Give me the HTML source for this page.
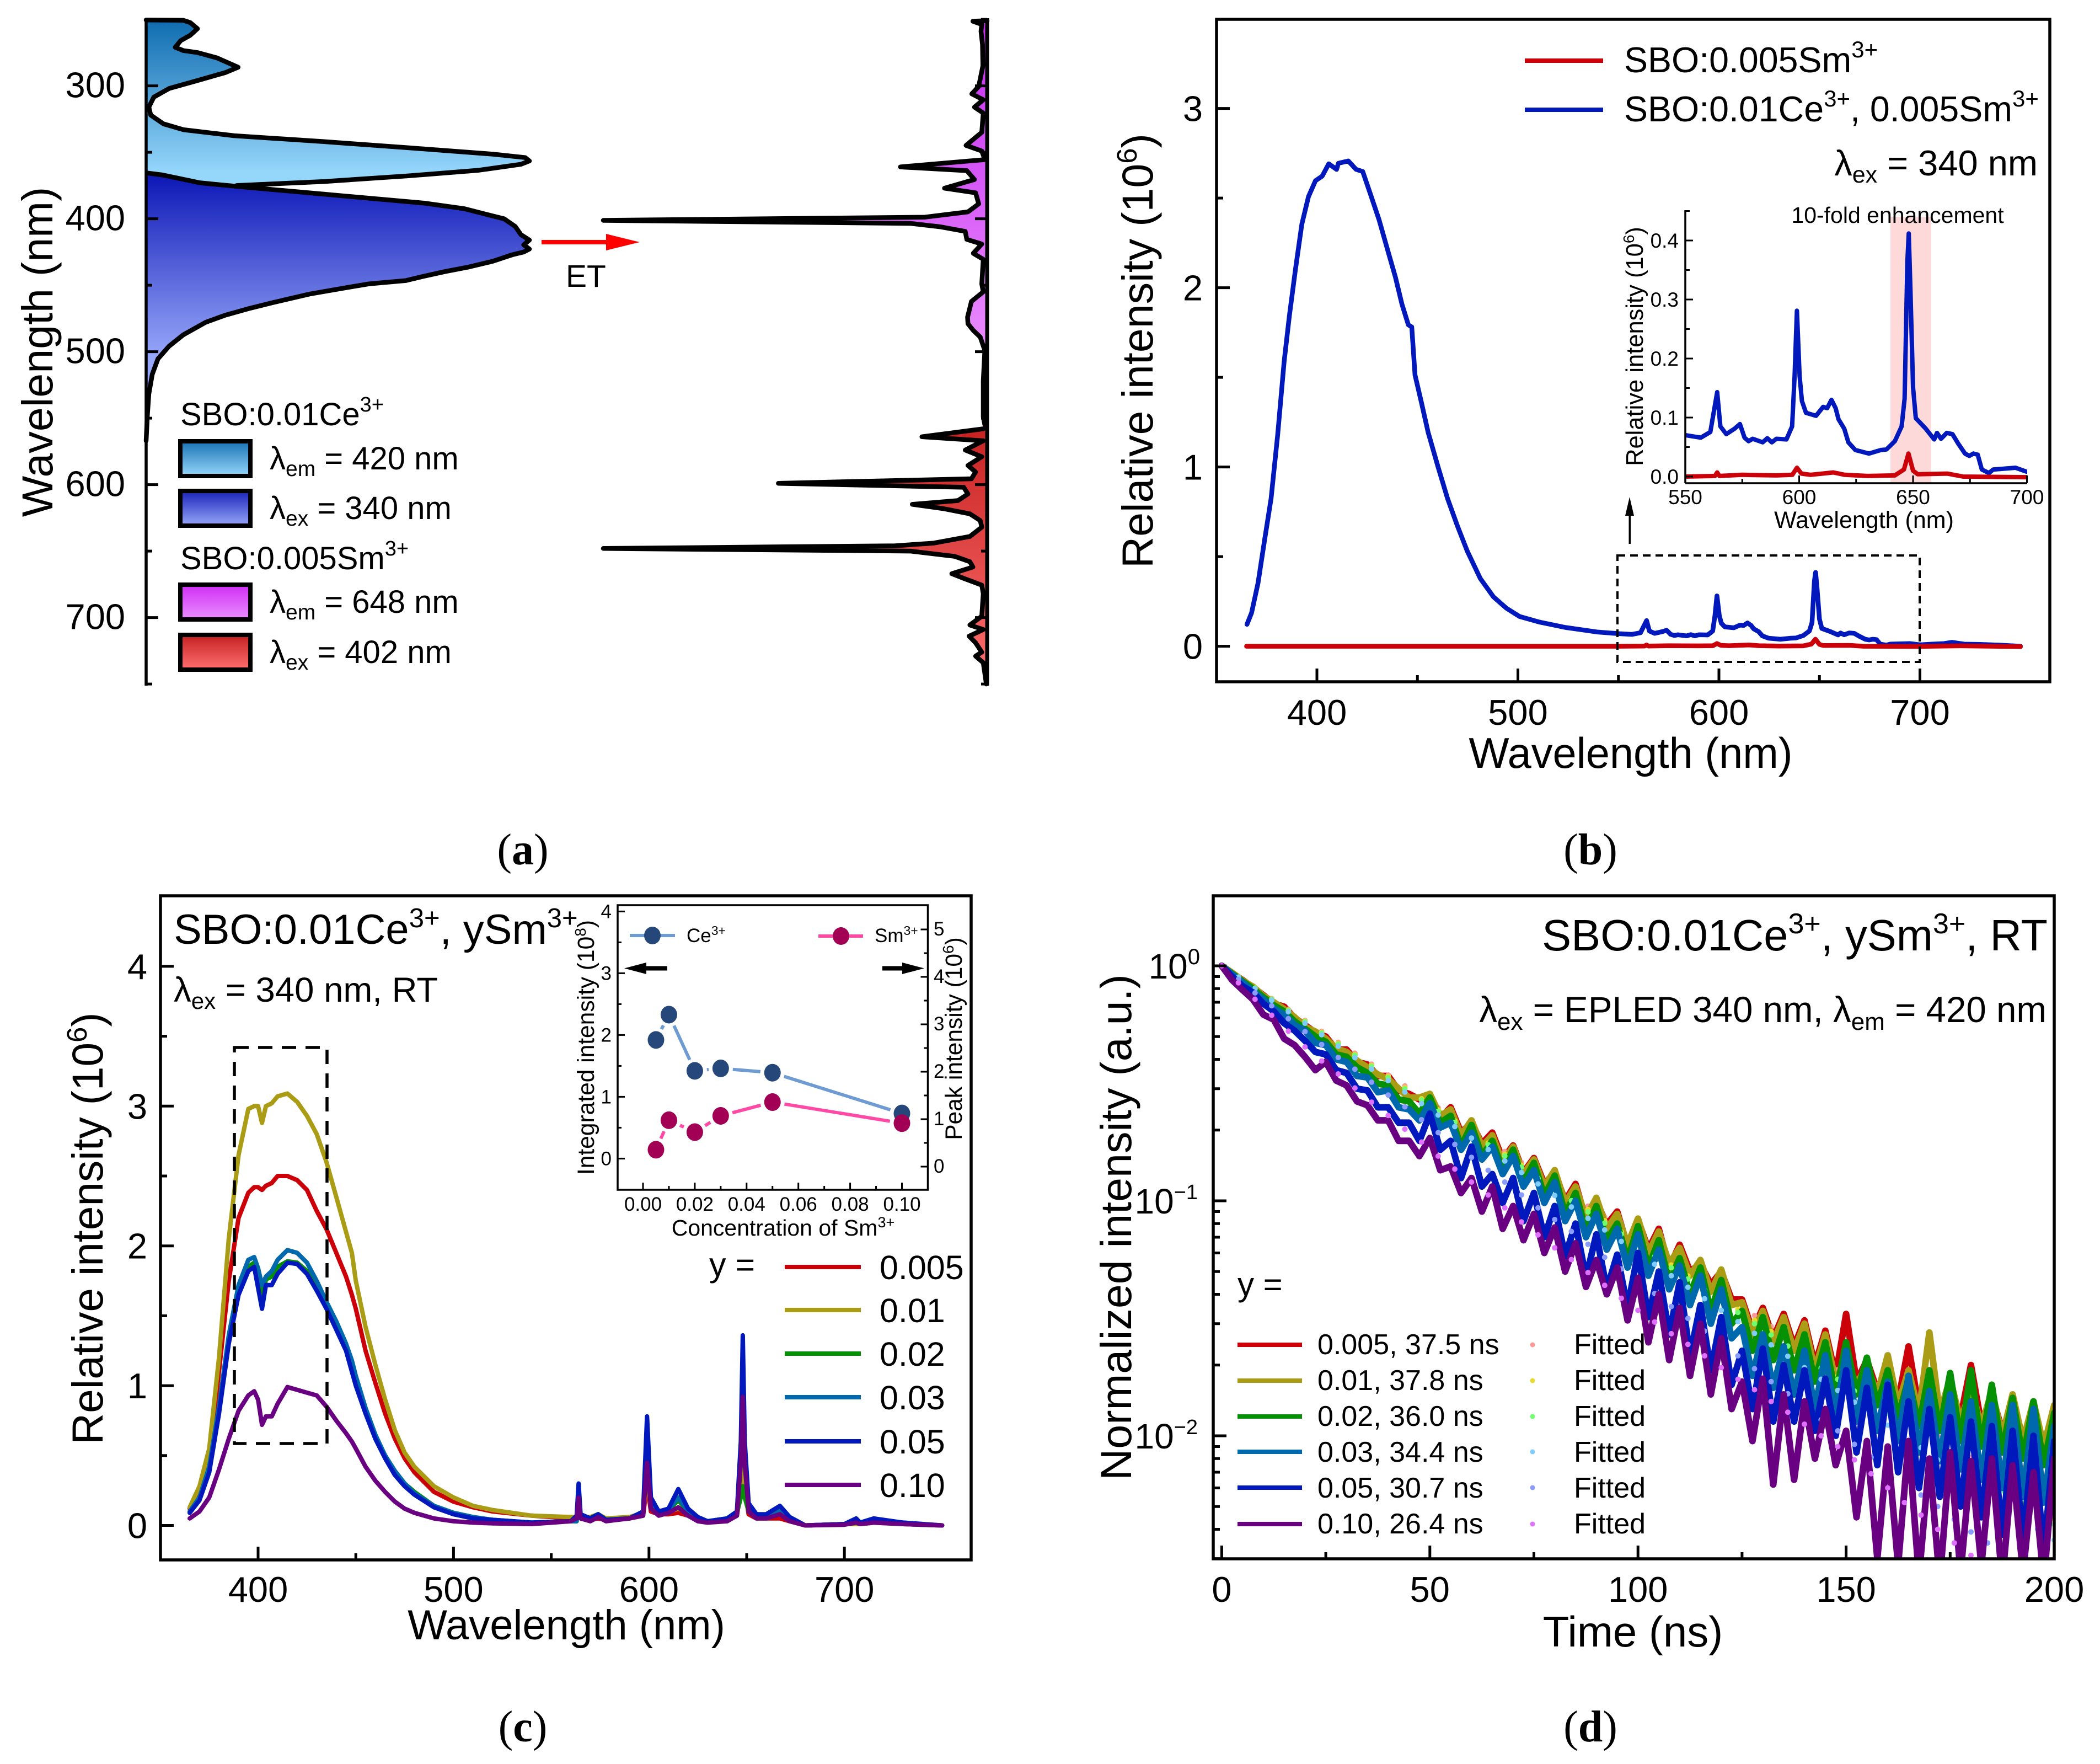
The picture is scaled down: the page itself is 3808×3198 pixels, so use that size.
<!DOCTYPE html>
<html lang="en">
<head>
<meta charset="utf-8">
<title>Spectra and decay figure</title>
<style>
html,body{margin:0;padding:0;background:#fff;}
svg{display:block;font-family:"Liberation Sans",sans-serif;fill:#000;}
</style>
</head>
<body>
<svg id="figure" xmlns="http://www.w3.org/2000/svg" width="3808" height="3198" viewBox="0 0 3808 3198">
<defs>
<linearGradient id="gCeEx" gradientUnits="userSpaceOnUse" x1="0" y1="36" x2="0" y2="312"><stop offset="0" stop-color="#0f6cb0"/><stop offset="1" stop-color="#95d6fb"/></linearGradient>
<linearGradient id="gCeEm" gradientUnits="userSpaceOnUse" x1="0" y1="315" x2="0" y2="650"><stop offset="0" stop-color="#0c17b6"/><stop offset="1" stop-color="#98a8fa"/></linearGradient>
<linearGradient id="gSmEx" gradientUnits="userSpaceOnUse" x1="0" y1="36" x2="0" y2="640"><stop offset="0" stop-color="#c42bee"/><stop offset="1" stop-color="#e98cff"/></linearGradient>
<linearGradient id="gSmEm" gradientUnits="userSpaceOnUse" x1="0" y1="790" x2="0" y2="1240"><stop offset="0" stop-color="#c82424"/><stop offset="1" stop-color="#ff7070"/></linearGradient>
<linearGradient id="bCeEx" x1="0" y1="0" x2="0" y2="1"><stop offset="0" stop-color="#1a72b4"/><stop offset="1" stop-color="#95d6fb"/></linearGradient>
<linearGradient id="bCeEm" x1="0" y1="0" x2="0" y2="1"><stop offset="0" stop-color="#1822b8"/><stop offset="1" stop-color="#98a8fa"/></linearGradient>
<linearGradient id="bSmEx" x1="0" y1="0" x2="0" y2="1"><stop offset="0" stop-color="#d02cf4"/><stop offset="1" stop-color="#e890ff"/></linearGradient>
<linearGradient id="bSmEm" x1="0" y1="0" x2="0" y2="1"><stop offset="0" stop-color="#c42020"/><stop offset="1" stop-color="#ff7070"/></linearGradient>
<clipPath id="clipB"><rect x="2206" y="35" width="1511" height="1201"/></clipPath>
<clipPath id="clipBInset"><rect x="3056" y="381" width="620" height="495"/></clipPath>
<clipPath id="clipC"><rect x="291" y="1624" width="1470" height="1204"/></clipPath>
<clipPath id="clipD"><rect x="2200" y="1624" width="1525" height="1202"/></clipPath>
</defs>

<g id="panelA">
  <g id="aMarks"></g>
  <g id="aAxes"></g>
  <text transform="translate(95,638) rotate(-90)" text-anchor="middle" font-size="79">Wavelength (nm)</text>
  <g>
    <rect x="982" y="435" width="120" height="8" fill="#ff0000"/>
    <polygon points="1099,424 1160,439 1099,454" fill="#ff0000"/>
  </g>
  <text x="1026" y="520" font-size="57">ET</text>
  <g font-size="58">
    <text x="327" y="771">SBO:0.01Ce<tspan dy="-25" font-size="38">3+</tspan></text>
    <rect x="327" y="800" width="127" height="63" fill="url(#bCeEx)" stroke="#000" stroke-width="8"/>
    <text x="489" y="851">λ<tspan dy="12" font-size="39">em</tspan><tspan dy="-12"> = 420 nm</tspan></text>
    <rect x="327" y="890" width="127" height="63" fill="url(#bCeEm)" stroke="#000" stroke-width="8"/>
    <text x="489" y="941">λ<tspan dy="12" font-size="39">ex</tspan><tspan dy="-12"> = 340 nm</tspan></text>
    <text x="327" y="1032">SBO:0.005Sm<tspan dy="-25" font-size="38">3+</tspan></text>
    <rect x="327" y="1060" width="127" height="63" fill="url(#bSmEx)" stroke="#000" stroke-width="8"/>
    <text x="489" y="1111">λ<tspan dy="12" font-size="39">em</tspan><tspan dy="-12"> = 648 nm</tspan></text>
    <rect x="327" y="1151" width="127" height="63" fill="url(#bSmEm)" stroke="#000" stroke-width="8"/>
    <text x="489" y="1202">λ<tspan dy="12" font-size="39">ex</tspan><tspan dy="-12"> = 402 nm</tspan></text>
  </g>
  <text x="948" y="1567" text-anchor="middle" font-size="80" style="font-family:'Liberation Serif',serif">(<tspan font-weight="bold">a</tspan>)</text>
</g>

<g id="panelB">
  <rect x="3428" y="393" width="74" height="483" fill="#fdd9d9"/>
  <g id="bMarks"></g>
  <g id="bAxes"></g>
  <rect x="2933" y="1007" width="548" height="193" fill="none" stroke="#000" stroke-width="4" stroke-dasharray="14 9"/>
  <text transform="translate(2090,636) rotate(-90)" text-anchor="middle" font-size="79">Relative intensity (10<tspan dy="-29" font-size="51">6</tspan><tspan dy="29">)</tspan></text>
  <text x="2957" y="1392" text-anchor="middle" font-size="77.5">Wavelength (nm)</text>
  <line x1="2765" y1="110" x2="2907" y2="110" stroke="#cc0008" stroke-width="8"/>
  <line x1="2765" y1="199" x2="2907" y2="199" stroke="#0018bc" stroke-width="8"/>
  <text x="2945" y="131" font-size="64.5">SBO:0.005Sm<tspan dy="-27" font-size="42">3+</tspan></text>
  <text x="2945" y="220" font-size="64.5">SBO:0.01Ce<tspan dy="-27" font-size="42">3+</tspan><tspan dy="27">, 0.005Sm</tspan><tspan dy="-27" font-size="42">3+</tspan></text>
  <text x="3695" y="318" text-anchor="end" font-size="65">λ<tspan dy="13" font-size="43">ex</tspan><tspan dy="-13"> = 340 nm</tspan></text>
  <text x="3441" y="404" text-anchor="middle" font-size="41">10-fold enhancement</text>
  <text transform="translate(2979,628) rotate(-90)" text-anchor="middle" font-size="43.5">Relative intensity (10<tspan dy="-16" font-size="28">6</tspan><tspan dy="16">)</tspan></text>
  <text x="3380" y="957" text-anchor="middle" font-size="43">Wavelength (nm)</text>
  <g>
    <rect x="2953.5" y="930" width="3.5" height="56"/>
    <polygon points="2955,901 2963,935 2947,935"/>
  </g>
  <text x="2884" y="1567" text-anchor="middle" font-size="80" style="font-family:'Liberation Serif',serif">(<tspan font-weight="bold">b</tspan>)</text>
</g>

<g id="panelC">
  <g id="cMarks"></g>
  <g id="cAxes"></g>
  <rect x="425" y="1899" width="168" height="718" fill="none" stroke="#000" stroke-width="5.5" stroke-dasharray="26 17"/>
  <text x="315" y="1711" font-size="76">SBO:0.01Ce<tspan dy="-30" font-size="49">3+</tspan><tspan dy="30">, ySm</tspan><tspan dy="-30" font-size="49">3+</tspan></text>
  <text x="315" y="1816" font-size="63.5">λ<tspan dy="13" font-size="42">ex</tspan><tspan dy="-13"> = 340 nm, RT</tspan></text>
  <text transform="translate(186,2227) rotate(-90)" text-anchor="middle" font-size="78.5">Relative intensity (10<tspan dy="-29" font-size="51">6</tspan><tspan dy="29">)</tspan></text>
  <text x="1027" y="2972" text-anchor="middle" font-size="76">Wavelength (nm)</text>
  <text x="1286" y="2314" font-size="61">y =</text>
  <g font-size="61" stroke-width="8">
    <line x1="1423" x2="1561" y1="2297" y2="2297" stroke="#cc0008" stroke-width="8"/>
    <text x="1595" y="2319">0.005</text>
    <line x1="1423" x2="1561" y1="2375" y2="2375" stroke="#aa9c14" stroke-width="8"/>
    <text x="1595" y="2397">0.01</text>
    <line x1="1423" x2="1561" y1="2454" y2="2454" stroke="#069006" stroke-width="8"/>
    <text x="1595" y="2476">0.02</text>
    <line x1="1423" x2="1561" y1="2533" y2="2533" stroke="#0068ad" stroke-width="8"/>
    <text x="1595" y="2555">0.03</text>
    <line x1="1423" x2="1561" y1="2613" y2="2613" stroke="#0018bc" stroke-width="8"/>
    <text x="1595" y="2635">0.05</text>
    <line x1="1423" x2="1561" y1="2692" y2="2692" stroke="#690082" stroke-width="8"/>
    <text x="1595" y="2714">0.10</text>
  </g>
  <g id="cInset"></g>
  <g>
    <text transform="translate(1077,1899) rotate(-90)" text-anchor="middle" font-size="42.5">Integrated intensity (10<tspan dy="-15" font-size="28">8</tspan><tspan dy="15">)</tspan></text>
    <text transform="translate(1744,1883) rotate(-90)" text-anchor="middle" font-size="42.5">Peak intensity (10<tspan dy="-15" font-size="28">6</tspan><tspan dy="15">)</tspan></text>
    <text x="1420" y="2240" text-anchor="middle" font-size="41">Concentration of Sm<tspan dy="-15" font-size="27">3+</tspan></text>
    <line x1="1142" x2="1224" y1="1696" y2="1696" stroke="#6f9bd3" stroke-width="6"/>
    <ellipse cx="1183" cy="1696" rx="15" ry="16" fill="#26477a"/>
    <text x="1245" y="1708" font-size="35">Ce<tspan dy="-13" font-size="23">3+</tspan></text>
    <line x1="1484" x2="1565" y1="1697" y2="1697" stroke="#ff4aa5" stroke-width="6"/>
    <ellipse cx="1525" cy="1697" rx="15" ry="16" fill="#a10055"/>
    <text x="1586" y="1708" font-size="35">Sm<tspan dy="-13" font-size="23">3+</tspan></text>
    <polygon points="1132,1755.5 1172,1745 1172,1751.5 1210,1751.5 1210,1759.5 1172,1759.5 1172,1766"/>
    <polygon points="1676,1755.5 1636,1745 1636,1751.5 1600,1751.5 1600,1759.5 1636,1759.5 1636,1766"/>
  </g>
  <text x="948" y="3157" text-anchor="middle" font-size="80" style="font-family:'Liberation Serif',serif">(<tspan font-weight="bold">c</tspan>)</text>
</g>

<g id="panelD">
  <g id="dMarks"></g>
  <g id="dAxes"></g>
  <text x="3713" y="1723" text-anchor="end" font-size="79.5">SBO:0.01Ce<tspan dy="-31" font-size="52">3+</tspan><tspan dy="31">, ySm</tspan><tspan dy="-31" font-size="52">3+</tspan><tspan dy="31">, RT</tspan></text>
  <text x="3711" y="1853" text-anchor="end" font-size="65.5">λ<tspan dy="14" font-size="44">ex</tspan><tspan dy="-14"> = EPLED 340 nm, λ</tspan><tspan dy="14" font-size="44">em</tspan><tspan dy="-14"> = 420 nm</tspan></text>
  <text transform="translate(2051,2225) rotate(-90)" text-anchor="middle" font-size="79">Normalized intensity (a.u.)</text>
  <text x="2961" y="2985" text-anchor="middle" font-size="78">Time (ns)</text>
  <g font-size="64" text-anchor="end">
    <text x="2176" y="1774">10<tspan dy="-26" font-size="40">0</tspan></text>
    <text x="2172" y="2200">10<tspan dy="-26" font-size="38">−1</tspan></text>
    <text x="2172" y="2626">10<tspan dy="-26" font-size="38">−2</tspan></text>
  </g>
  <text x="2244" y="2349" font-size="60">y =</text>
  <g font-size="52">
    <line x1="2244" x2="2361" y1="2438" y2="2438" stroke="#cc0008" stroke-width="8"/>
    <text x="2389" y="2455">0.005, 37.5 ns</text>
    <circle cx="2779" cy="2438" r="4.5" fill="#ff9a9a"/>
    <text x="2854" y="2455">Fitted</text>
    <line x1="2244" x2="2361" y1="2503" y2="2503" stroke="#aa9c14" stroke-width="8"/>
    <text x="2389" y="2520">0.01, 37.8 ns</text>
    <circle cx="2779" cy="2503" r="4.5" fill="#e8dc2a"/>
    <text x="2854" y="2520">Fitted</text>
    <line x1="2244" x2="2361" y1="2568" y2="2568" stroke="#069006" stroke-width="8"/>
    <text x="2389" y="2585">0.02, 36.0 ns</text>
    <circle cx="2779" cy="2568" r="4.5" fill="#70ff70"/>
    <text x="2854" y="2585">Fitted</text>
    <line x1="2244" x2="2361" y1="2632" y2="2632" stroke="#0068ad" stroke-width="8"/>
    <text x="2389" y="2650">0.03, 34.4 ns</text>
    <circle cx="2779" cy="2632" r="4.5" fill="#80ccff"/>
    <text x="2854" y="2650">Fitted</text>
    <line x1="2244" x2="2361" y1="2697" y2="2697" stroke="#0018bc" stroke-width="8"/>
    <text x="2389" y="2715">0.05, 30.7 ns</text>
    <circle cx="2779" cy="2697" r="4.5" fill="#8a9cff"/>
    <text x="2854" y="2715">Fitted</text>
    <line x1="2244" x2="2361" y1="2763" y2="2763" stroke="#690082" stroke-width="8"/>
    <text x="2389" y="2780">0.10, 26.4 ns</text>
    <circle cx="2779" cy="2763" r="4.5" fill="#e070ff"/>
    <text x="2854" y="2780">Fitted</text>
  </g>
  <text x="2884" y="3157" text-anchor="middle" font-size="80" style="font-family:'Liberation Serif',serif">(<tspan font-weight="bold">d</tspan>)</text>
</g>
</svg>

<script>
/* ---------- Panel (a) data: wavelength (nm) and normalized intensity ---------- */
const aCeExWl = [250.5,250.7,252.4,257,262,266,271,273.5,275,279,286,290,296,302,308.5,316,322,328.6,333,337.5,342,346.6,351.4,354,356.5,359,363.5,367.7,372,375];
const aCeExI = [0,.097,.115,.134,.115,.09,.076,.097,.134,.185,.24,.207,.134,.06,.02,.007,.012,.045,.097,.229,.464,.684,.905,.989,1,.978,.868,.684,.464,.236];
const aCeEmWl = [365.6,367,369,373,375.6,381.5,388.3,392.5,397.4,400,405.8,412,416,419.6,422.8,425,427,431.9,436.5,439.7,443.5,446.5,449,451.8,456.6,463,467.7,472.5,477.8,487.3,495.8,505.3,517,531.8,548.7,567];
const aCeEmI = [.003,.042,.075,.141,.236,.464,.728,.831,.897,.934,.963,.978,1,.985,1,.985,.956,.905,.838,.78,.721,.677,.581,.523,.427,.332,.266,.207,.156,.097,.06,.031,.016,.007,.003,0];
const aSmExWl = [251,251.4,253.8,259,269,285,300.5,306,310.5,316,320.5,335,344.8,349,355.5,361,363.8,370.5,377,380.5,388.8,394.8,398.8,401.2,403.5,406,409.5,415.5,419,426,430.5,449,455,462.2,467,474,479,484,489,499,522,549,555];
const aSmExI = [0,.037,.014,.016,.012,.011,.022,.04,.01,.033,.01,.014,.055,.014,.006,.226,.053,.033,.111,.03,.022,.05,.162,1,.2,.123,.057,.053,.014,.036,.01,.014,.01,.041,.045,.051,.05,.036,.018,.006,.01,.01,.006];
const aSmEmWl = [558,564,567,574,579,585.6,590.5,595.6,599,602,607,612,614.8,618,622,627,632,639,644,646,648,650,654,658,662,667,670.5,675.6,682,699,705.6,709,714,719,726,729,734,746,750];
const aSmEmI = [.01,.17,.01,.057,.014,.05,.03,.041,.544,.061,.05,.076,.195,.115,.045,.018,.014,.045,.139,.24,1,.2,.084,.045,.037,.092,.061,.014,.01,.014,.045,.01,.047,.03,.014,.03,.01,.004,.002];
const aTicksMajor = [300,400,500,600,700];
const aTicksMinor = [250,350,450,550,650,750];
const aTickLabels = ["300","400","500","600","700"];

/* ---------- Panel (b) data ---------- */
const bBlueWl = [365.2,367.5,370.7,374,377.2,380.5,383.7,386.3,389.3,392.5,395.8,399.3,402.6,405.9,409.8,410.7,415.6,419.5,422.8,426.7,430.9,435.1,439,442.3,445.5,447.2,448.8,452,455.3,460.2,465,469.9,474.8,481.3,487.8,494.3,500.8,510.6,523.6,539.8,550.6,556.8,561,564,565.4,568,571.6,574,576,577.8,579.6,584,586,588,590,594.4,596.9,598,599,600.2,601.2,603,607.4,610.5,612.3,614.2,616,617.3,619.8,621.6,624.7,630.6,635.8,638.3,642,645,646.3,647.5,648.1,648.8,650,651.2,655.6,659.3,660.5,662.3,664.8,667.3,669.8,672.8,674.7,676.5,678.4,680.2,683.3,685.2,695,700,706,712,716,722,730,740,750];
const bBlueI = [.122,.186,.352,.594,.824,1.181,1.589,1.844,2.1,2.355,2.508,2.597,2.622,2.691,2.66,2.694,2.707,2.66,2.648,2.52,2.38,2.214,2.061,1.908,1.793,1.781,1.513,1.36,1.194,1.003,.824,.671,.531,.378,.276,.212,.166,.135,.105,.079,.0698,.066,.0755,.143,.085,.072,.081,.089,.066,.06,.064,.058,.065,.058,.064,.063,.085,.17,.281,.17,.128,.108,.103,.118,.116,.13,.116,.097,.081,.058,.045,.039,.045,.046,.06,.085,.132,.364,.412,.325,.151,.099,.081,.063,.074,.064,.074,.072,.056,.039,.035,.039,.037,.012,.006,.012,.015,.008,.012,.015,.022,.012,.01,.006,0];
const bRedWl = [365,400,450,500,550,563,564,565,575,590,597,599,601,605,615,620,630,642,646,648,650,652,665,672,700,720,750];
const bRedI = [0,0,0,0,0,.001,.007,.001,.003,.002,.003,.015,.005,.003,.007,.003,.001,.002,.012,.039,.01,.004,.005,0,-.001,.002,-.002];
const bXTicks = [400,500,600,700];
const bXMinor = [450,550,650];
const bXLabels = ["400","500","600","700"];
const bYTicks = [0,1,2,3];
const bYMinor = [.5,1.5,2.5];
const bYLabels = ["0","1","2","3"];
const bInsetXTicks = [550,600,650,700];
const bInsetXMinor = [575,625,675];
const bInsetXLabels = ["550","600","650","700"];
const bInsetYTicks = [0,.1,.2,.3,.4];
const bInsetYMinor = [.05,.15,.25,.35,.45];
const bInsetYLabels = ["0.0","0.1","0.2","0.3","0.4"];

/* ---------- Panel (c) data ---------- */
const cWavelengths = [365,370,375,380,385,390,395,398,400,402,
404,407,410,415,420,425,430,435,440,445,
448,450,455,460,465,470,475,480,490,500,
510,520,540,560,563,564,565,570,574,578,
590,597,599,601,605,610,615,620,625,630,
640,645,647,648,649,651,655,660,667,672,
680,700,706,708,715,730,750];
const cRed = [.12,.25,.5,1.1,1.75,2.2,2.38,2.42,2.42,2.4,
2.43,2.45,2.5,2.5,2.47,2.4,2.25,2.12,1.95,1.78,
1.65,1.55,1.25,1.02,.8,.62,.48,.38,.24,.17,
.13,.1,.07,.05,.05,.1,.05,.04,.05,.04,
.05,.07,.3,.1,.08,.08,.09,.07,.04,.03,
.04,.07,.25,.5,.25,.08,.05,.05,.05,.03,
0,.01,.01,.01,.02,.01,0];
const cOlive = [.13,.28,.55,1.2,2.05,2.65,2.98,3.0,3.0,2.88,
3.0,3.02,3.07,3.09,3.03,2.93,2.8,2.6,2.35,2.1,
1.95,1.75,1.42,1.15,.9,.68,.52,.42,.28,.2,
.14,.11,.07,.06,.06,.12,.06,.06,.08,.05,
.06,.09,.35,.13,.1,.1,.12,.09,.05,.03,
.05,.08,.3,.6,.3,.1,.07,.07,.08,.04,
0,.01,.01,.01,.02,.01,0];
const cGreen = [.1,.19,.4,.82,1.32,1.68,1.85,1.88,1.78,1.62,
1.76,1.78,1.85,1.89,1.88,1.82,1.7,1.56,1.42,1.27,
1.15,1.05,.82,.64,.5,.38,.3,.24,.14,.09,
.06,.04,.02,.03,.03,.2,.05,.05,.08,.04,
.05,.08,.5,.14,.1,.11,.18,.1,.05,.03,
.05,.09,.2,.28,.2,.1,.07,.07,.1,.05,
0,.01,.03,.01,.03,.01,0];
const cTeal = [.1,.2,.42,.85,1.36,1.72,1.9,1.92,1.84,1.72,
1.78,1.82,1.9,1.97,1.95,1.88,1.75,1.6,1.46,1.3,
1.18,1.07,.84,.65,.5,.39,.3,.23,.14,.09,
.06,.04,.02,.03,.03,.25,.06,.05,.08,.04,
.05,.09,.6,.16,.1,.11,.2,.1,.05,.03,
.05,.09,.45,1.0,.45,.12,.07,.07,.11,.05,
0,.01,.04,.01,.04,.02,0];
const cBlue = [.09,.18,.38,.8,1.3,1.65,1.82,1.85,1.7,1.55,
1.72,1.72,1.8,1.88,1.87,1.8,1.68,1.55,1.4,1.25,
1.1,1.0,.8,.62,.48,.36,.28,.22,.13,.08,
.05,.04,.02,.03,.07,.3,.08,.05,.08,.04,
.05,.1,.78,.2,.1,.12,.26,.12,.06,.03,
.05,.1,.6,1.36,.6,.16,.08,.08,.14,.06,
0,.01,.05,.02,.05,.02,0];
const cPurple = [.05,.1,.2,.4,.62,.82,.93,.96,.9,.72,
.78,.78,.87,.99,.97,.95,.93,.85,.75,.66,
.6,.55,.42,.32,.24,.17,.12,.09,.05,.03,
.02,.015,.01,.03,.05,.2,.05,.03,.06,.03,
.05,.07,.45,.12,.07,.09,.13,.07,.03,.02,
.03,.07,.45,.92,.45,.1,.05,.05,.08,.03,
0,.005,.02,.01,.02,.01,0];
const cXTicks = [400,500,600,700];
const cXMinor = [450,550,650];
const cXLabels = ["400","500","600","700"];
const cYTicks = [0,1,2,3,4];
const cYMinor = [.5,1.5,2.5,3.5];
const cYLabels = ["0","1","2","3","4"];

const concentrations = [.005,.01,.02,.03,.05,.10];
const ceIntegrated = [1.92,2.33,1.42,1.46,1.39,.73];
const smPeak = [.356,.978,.727,1.07,1.36,.916];
const insetXTicks = [0,.02,.04,.06,.08,.10];
const insetXMinor = [.01,.03,.05,.07,.09];
const insetXLabels = ["0.00","0.02","0.04","0.06","0.08","0.10"];
const insetLeftTicks = [0,1,2,3,4];
const insetLeftMinor = [.5,1.5,2.5,3.5];
const insetLeftLabels = ["0","1","2","3","4"];
const insetRightTicks = [0,1,2,3,4,5];
const insetRightMinor = [.5,1.5,2.5,3.5,4.5];
const insetRightLabels = ["0","1","2","3","4","5"];

/* ---------- Panel (d) data: counts, 10000 = normalized 1 ---------- */
const decayTimes = [0,2.5,5,7.5,10,12.5,15,17.5,20,22.5,
25,27.5,30,32.5,35,37.5,40,42.5,45,47.5,
50,52.5,55,57.5,60,62.5,65,67.5,70,72.5,
75,77.5,80,82.5,85,87.5,90,92.5,95,97.5,
100,102.5,105,107.5,110,112.5,115,117.5,120,122.5,
125,127.5,130,132.5,135,137.5,140,142.5,145,147.5,
150,152.5,155,157.5,160,162.5,165,167.5,170,172.5,
175,177.5,180,182.5,185,187.5,190,192.5,195,197.5,
200];
const decayRed = [10000,9300,8700,8100,7500,6900,6700,6000,5600,5200,
5000,4400,4400,3900,3800,3400,3400,2950,2850,2700,
2800,2250,2500,1950,2150,1750,1950,1500,1720,1320,
1520,1180,1320,1000,1180,830,1000,790,900,640,
830,620,760,520,650,500,540,440,500,380,
380,280,350,260,330,240,310,200,280,180,
330,170,210,155,200,140,240,130,190,130,
165,120,200,112,150,105,130,100,120,95,
108];
const decayOlive = [10000,9350,8650,8150,7450,7000,6550,6050,5500,5250,
4900,4450,4300,3950,3700,3450,3300,3000,2750,2750,
2850,2300,2450,1900,2200,1700,1900,1450,1700,1300,
1500,1150,1350,980,1150,850,1030,760,880,650,
840,600,740,540,630,480,560,410,510,360,
370,270,340,250,320,230,300,190,270,170,
210,165,200,150,220,135,190,125,275,125,
175,115,160,110,155,100,150,95,140,90,
135];
const decayGreen = [10000,9250,8600,8000,7350,6800,6400,5800,5400,5000,
4750,4200,4100,3700,3500,3150,3100,2700,2650,2350,
2750,2150,2300,1700,2100,1550,1800,1350,1650,1200,
1450,1050,1280,880,1080,750,950,680,800,560,
780,520,680,450,570,400,520,340,460,300,
340,230,320,210,290,190,270,170,250,150,
250,150,215,135,190,120,175,110,190,105,
185,95,190,90,165,85,145,80,140,75,
125];
const decayTeal = [10000,9200,8500,7800,7200,6600,6200,5600,5300,4700,
4600,4000,3900,3400,3350,2900,2950,2500,2450,2200,
2600,2050,2150,1650,1950,1500,1700,1300,1550,1150,
1350,980,1200,820,1000,700,880,620,760,520,
720,480,620,420,530,360,480,300,420,260,
290,180,270,160,240,150,230,130,220,120,
230,115,190,105,170,95,180,85,155,78,
150,72,140,65,135,60,135,55,130,52,
110];
const decayBlue = [10000,9000,8200,7700,6900,6400,5700,5300,4800,4300,
4200,3600,3500,3000,2950,2500,2500,2150,2150,1800,
2350,1650,1800,1250,1700,1150,1300,980,1250,820,
1080,700,950,580,800,470,720,420,590,350,
600,320,500,270,450,220,360,190,320,165,
230,130,235,115,200,115,190,105,175,100,
190,85,160,75,165,70,140,60,130,55,
120,50,115,45,110,38,105,36,100,32,
95];
const decayPurple = [10000,8700,7900,7200,6200,5900,4900,4600,4100,3600,
3900,3250,3100,2650,2550,2200,2200,1800,1800,1550,
1850,1350,1400,1080,1250,900,1150,760,950,680,
880,600,770,500,660,430,560,400,520,310,
470,250,400,210,350,180,300,150,260,130,
170,95,175,62,150,65,140,80,130,75,
105,45,95,30,90,28,95,25,80,24,
85,26,78,28,80,24,75,26,70,24,
80];
const fitTimes = [0,4,8,12,16,20,24,28,32,36,40,44,48,52,56,60,64,68,72,76,80,84,88,92,96,100,104,108,112,116,120,124,128,132,136,140,144,148,152,156,160,164,168,172,176,180,184,188,192,196,200];
const fitRed = [10000,8985,8073,7254,6518,5856,5262,4728,4248,3817,3430,3081,2769,2488,2235,2008,1804,1621,1457,1309,1176,1057,949,853,766,689,619,556,500,449,403,362,325,292,263,236,212,191,171,154,138,124,112,100,90,81,73,65,59,53,47];
const fitOlive = [10000,8971,8048,7220,6477,5811,5213,4677,4195,3764,3377,3030,2718,2438,2187,1962,1760,1579,1417,1271,1140,1023,918,823,739,663,595,533,479,429,385,345,310,278,250,224,201,180,162,145,130,117,105,94,84,76,68,61,55,49,44];
const fitGreen = [10000,8962,8032,7198,6451,5781,5181,4643,4161,3730,3342,2995,2684,2406,2156,1932,1732,1552,1391,1247,1117,1001,897,804,721,646,579,519,465,417,374,335,300,269,241,216,194,174,155,139,125,112,100,90,81,72,65,58,52,47,42];
const fitTeal = [10000,8936,7985,7136,6377,5698,5092,4550,4066,3633,3247,2901,2593,2317,2070,1850,1653,1477,1320,1180,1054,942,842,752,672,601,537,480,429,383,342,306,273,244,218,195,174,156,139,124,111,99,89,79,71,63,57,51,45,40,36];
const fitBlue = [10000,8750,7674,6761,5957,5248,4624,4074,3631,3199,2818,2512,2213,1950,1738,1531,1349,1202,1059,933,832,741,653,575,513,452,403,355,316,279,245,219,193,170,151,133,117,105,92,81,72,64,56,50,44,39,35,31,27,24,21];
const fitPurple = [10000,8472,7211,6166,5272,4519,3936,3467,3020,2630,2307,2018,1778,1549,1365,1202,1059,933,813,716,631,562,495,437,385,342,305,272,245,219,195,174,157,140,126,112,100,90,79,69,60,52,46,40,35,31,27,23,20,18,16];
const dXTicks = [0,50,100,150,200];
const dXMinor = [25,75,125,175];
const dXLabels = ["0","50","100","150","200"];
const dYTicks = [1,.1,.01];
const dYMinor = [.9,.8,.7,.6,.5,.4,.3,.2,.09,.08,.07,.06,.05,.04,.03,.02,.009,.008,.007,.006,.005,.004,.003];

/* ---------- Axis functions ---------- */
const yA = w => 155.6 + (w - 300) * 2.41;
const xCe = i => 265 + 695 * i;
const xSm = i => 1790 - 696 * i;
const xB = w => 2388 + (w - 400) * 3.645;
const yB = v => 1171.6 - v * 325;
const xBI = w => 3056 + (w - 550) * 4.13;
const yBI = v => 864 - v * 1070;
const xC = w => 468 + (w - 400) * 3.544;
const yC = v => 2765.5 - v * 253.4;
const xCI = c => 1166 + c * 4695;
const yCL = v => 2100.4 - v * 112;
const yCR = v => 2115 - v * 86;
const xD = t => 2215.4 + t * 7.548;
const yD = n => 1751 - 426 * Math.log10(n / 10000);
const yDa = v => 1751 - 426 * Math.log10(v);

/* ---------- Helpers ---------- */
const NS = 'http://www.w3.org/2000/svg';
function mk(tag, attrs, parent) {
  const e = document.createElementNS(NS, tag);
  for (const k in attrs) e.setAttribute(k, attrs[k]);
  parent.appendChild(e);
  return e;
}
function linePath(ys, xs, fx, fy) {
  let d = '';
  for (let i = 0; i < xs.length; i++) d += (i ? 'L' : 'M') + fx(xs[i]).toFixed(1) + ' ' + fy(ys[i]).toFixed(1);
  return d;
}
function sideways(ws, is, fx) {
  let d = '';
  for (let i = 0; i < ws.length; i++) d += (i ? 'L' : 'M') + fx(is[i]).toFixed(1) + ' ' + yA(ws[i]).toFixed(1);
  return d;
}
function drawSideSpectrum(parent, ws, is, fx, fill, baseFirst, baseLast, name) {
  const area = mk('path', {d: sideways(ws, is, fx) + 'L' + fx(0) + ' ' + yA(baseLast) + 'L' + fx(0) + ' ' + yA(baseFirst) + 'Z', fill: fill, stroke: 'none'}, parent);
  
  
  const out = mk('path', {d: sideways(ws, is, fx), fill: 'none', stroke: '#000', 'stroke-width': 8.5, 'stroke-linejoin': 'round', 'stroke-linecap': 'round'}, parent);
  
  
}
function drawSeries(parent, xs, ys, fx, fy, color, width, clip, name) {
  const p = mk('path', {d: linePath(ys, xs, fx, fy), fill: 'none', stroke: color, 'stroke-width': width, 'stroke-linejoin': 'round', 'stroke-linecap': 'round', 'clip-path': 'url(#' + clip + ')'}, parent);
  
  
}
function ticksV(parent, vals, fx, y, len, w, name) {
  for (const v of vals) {
    const t = mk('line', {x1: fx(v), x2: fx(v), y1: y, y2: y - len, stroke: '#000', 'stroke-width': w}, parent);
    
    
  }
}
function ticksH(parent, vals, fy, x, len, w, name) {
  for (const v of vals) {
    const t = mk('line', {x1: x, x2: x + len, y1: fy(v), y2: fy(v), stroke: '#000', 'stroke-width': w}, parent);
    
    
  }
}
function labelsV(parent, vals, labels, fx, y, size, name) {
  vals.forEach((v, i) => {
    const t = mk('text', {x: fx(v), y: y, 'font-size': size, 'text-anchor': 'middle'}, parent);
    t.textContent = labels[i];
    
    
  });
}
function labelsH(parent, vals, labels, fy, x, off, size, anchor, name) {
  vals.forEach((v, i) => {
    const t = mk('text', {x: x, y: fy(v) + off, 'font-size': size, 'text-anchor': anchor}, parent);
    t.textContent = labels[i];
    
    
  });
}
function frame(parent, x, y, w, h, sw, name) {
  const r = mk('rect', {x: x, y: y, width: w, height: h, fill: 'none', stroke: '#000', 'stroke-width': sw}, parent);
  
  
}

/* ---------- Panel (a) ---------- */
const aM = document.getElementById('aMarks');
drawSideSpectrum(aM, aCeExWl, aCeExI, xCe, 'url(#gCeEx)', 250.5, 375, 'ce-excitation');
drawSideSpectrum(aM, aCeEmWl, aCeEmI, xCe, 'url(#gCeEm)', 365.6, 567, 'ce-emission');
drawSideSpectrum(aM, aSmExWl, aSmExI, xSm, 'url(#gSmEx)', 251, 555, 'sm-excitation');
drawSideSpectrum(aM, aSmEmWl, aSmEmI, xSm, 'url(#gSmEm)', 558, 750, 'sm-emission');
const aA = document.getElementById('aAxes');
for (const ax of [265, 1790]) {
  const l = mk('line', {x1: ax, x2: ax, y1: 33, y2: 1243, stroke: '#000', 'stroke-width': ax === 265 ? 5.5 : 7}, aA);
  
  
}
ticksH(aA, aTicksMajor, yA, 265, 22, 5, 'left-major-tick');
ticksH(aA, aTicksMinor, yA, 265, 11, 5, 'left-minor-tick');
ticksH(aA, aTicksMajor, yA, 1790, -22, 5, 'right-major-tick');
ticksH(aA, aTicksMinor, yA, 1790, -11, 5, 'right-minor-tick');
labelsH(aA, aTicksMajor, aTickLabels, yA, 227, 21, 65, 'end', 'y-tick-label');

/* ---------- Panel (b) ---------- */
const bM = document.getElementById('bMarks');
drawSeries(bM, bBlueWl, bBlueI, xB, yB, '#0018bc', 8.5, 'clipB', 'ce-sm-spectrum');
drawSeries(bM, bRedWl, bRedI, xB, yB, '#cc0008', 8.5, 'clipB', 'sm-only-spectrum');
drawSeries(bM, bBlueWl, bBlueI, xBI, yBI, '#0018bc', 8, 'clipBInset', 'inset-ce-sm-spectrum');
drawSeries(bM, bRedWl, bRedI, xBI, yBI, '#cc0008', 8, 'clipBInset', 'inset-sm-only-spectrum');
const bA = document.getElementById('bAxes');
frame(bA, 2206, 35, 1511, 1201, 5.5, 'panel-b-frame');
ticksV(bA, bXTicks, xB, 1236, 24, 5, 'x-major-tick');
ticksV(bA, bXMinor, xB, 1236, 12, 5, 'x-minor-tick');
ticksH(bA, bYTicks, yB, 2206, 24, 5, 'y-major-tick');
ticksH(bA, bYMinor, yB, 2206, 12, 5, 'y-minor-tick');
labelsV(bA, bXTicks, bXLabels, xB, 1314, 65, 'x-tick-label');
labelsH(bA, bYTicks, bYLabels, yB, 2181, 23, 65, 'end', 'y-tick-label');
const bInAxes = [[3056, 381, 3056, 876], [3056, 876, 3676, 876]];
for (const s of bInAxes) {
  const l = mk('line', {x1: s[0], y1: s[1], x2: s[2], y2: s[3], stroke: '#000', 'stroke-width': 3.5}, bA);
  
  
}
ticksV(bA, bInsetXTicks, xBI, 876, 14, 3, 'inset-x-major-tick');
ticksV(bA, bInsetXMinor, xBI, 876, 8, 3, 'inset-x-minor-tick');
ticksH(bA, bInsetYTicks, yBI, 3056, 14, 3, 'inset-y-major-tick');
ticksH(bA, bInsetYMinor, yBI, 3056, 8, 3, 'inset-y-minor-tick');
labelsV(bA, bInsetXTicks, bInsetXLabels, xBI, 914, 37, 'inset-x-tick-label');
labelsH(bA, bInsetYTicks, bInsetYLabels, yBI, 3044, 13, 37, 'end', 'inset-y-tick-label');

/* ---------- Panel (c) ---------- */
const cM = document.getElementById('cMarks');
drawSeries(cM, cWavelengths, cRed, xC, yC, '#cc0008', 8, 'clipC', 'series-0-005');
drawSeries(cM, cWavelengths, cOlive, xC, yC, '#aa9c14', 8, 'clipC', 'series-0-01');
drawSeries(cM, cWavelengths, cGreen, xC, yC, '#069006', 8, 'clipC', 'series-0-02');
drawSeries(cM, cWavelengths, cTeal, xC, yC, '#0068ad', 8, 'clipC', 'series-0-03');
drawSeries(cM, cWavelengths, cBlue, xC, yC, '#0018bc', 8, 'clipC', 'series-0-05');
drawSeries(cM, cWavelengths, cPurple, xC, yC, '#690082', 8, 'clipC', 'series-0-10');
const cA = document.getElementById('cAxes');
frame(cA, 291, 1624, 1470, 1204, 5.5, 'panel-c-frame');
ticksV(cA, cXTicks, xC, 2828, 24, 5, 'x-major-tick');
ticksV(cA, cXMinor, xC, 2828, 12, 5, 'x-minor-tick');
ticksH(cA, cYTicks, yC, 291, 24, 5, 'y-major-tick');
ticksH(cA, cYMinor, yC, 291, 12, 5, 'y-minor-tick');
labelsV(cA, cXTicks, cXLabels, xC, 2904, 65, 'x-tick-label');
labelsH(cA, cYTicks, cYLabels, yC, 267, 23, 65, 'end', 'y-tick-label');

const cI = document.getElementById('cInset');
frame(cI, 1120, 1641, 562.5, 516, 3.5, 'inset-c-frame');
ticksV(cI, insetXTicks, xCI, 2157, 13, 3, 'inset-x-major-tick');
ticksV(cI, insetXMinor, xCI, 2157, 7, 3, 'inset-x-minor-tick');
ticksH(cI, insetLeftTicks, yCL, 1120, 13, 3, 'inset-left-major-tick');
ticksH(cI, insetLeftMinor, yCL, 1120, 7, 3, 'inset-left-minor-tick');
ticksH(cI, insetRightTicks, yCR, 1682.5, -13, 3, 'inset-right-major-tick');
ticksH(cI, insetRightMinor, yCR, 1682.5, -7, 3, 'inset-right-minor-tick');
labelsV(cI, insetXTicks, insetXLabels, xCI, 2195, 35, 'inset-x-tick-label');
labelsH(cI, insetLeftTicks, insetLeftLabels, yCL, 1109, 12, 35, 'end', 'inset-left-tick-label');
labelsH(cI, insetRightTicks, insetRightLabels, yCR, 1693, 11, 35, 'start', 'inset-right-tick-label');
function drawGapped(xs, ys, fy, lineColor, markerColor, name) {
  for (let i = 0; i + 1 < xs.length; i++) {
    const x1 = xCI(xs[i]), y1 = fy(ys[i]), x2 = xCI(xs[i + 1]), y2 = fy(ys[i + 1]);
    const len = Math.hypot(x2 - x1, y2 - y1), gap = 22;
    if (len <= 2 * gap) continue;
    const ux = (x2 - x1) / len, uy = (y2 - y1) / len;
    const s = mk('line', {x1: x1 + ux * gap, y1: y1 + uy * gap, x2: x2 - ux * gap, y2: y2 - uy * gap, stroke: lineColor, 'stroke-width': 6}, cI);
    
    
  }
  for (let i = 0; i < xs.length; i++) {
    const m = mk('ellipse', {cx: xCI(xs[i]), cy: fy(ys[i]), rx: 15, ry: 16, fill: markerColor}, cI);
    
    
  }
}
drawGapped(concentrations, ceIntegrated, yCL, '#6f9bd3', '#26477a', 'ce-integrated');
drawGapped(concentrations, smPeak, yCR, '#ff4aa5', '#a10055', 'sm-peak');

/* ---------- Panel (d) ---------- */
const dM = document.getElementById('dMarks');
function drawDecay(vals, fit, color, dotColor, name) {
  drawSeries(dM, decayTimes, vals, xD, yD, color, 12, 'clipD', name);
  const g = mk('g', {'clip-path': 'url(#clipD)'}, dM);
  
  
  for (let i = 0; i < fitTimes.length; i++) {
    const c = mk('circle', {cx: xD(fitTimes[i]).toFixed(1), cy: yD(fit[i]).toFixed(1), r: 5, fill: dotColor}, g);
    
    
  }
}
drawDecay(decayRed, fitRed, '#cc0008', '#ff9a9a', 'decay-0-005');
drawDecay(decayOlive, fitOlive, '#aa9c14', '#e8dc2a', 'decay-0-01');
drawDecay(decayGreen, fitGreen, '#069006', '#70ff70', 'decay-0-02');
drawDecay(decayTeal, fitTeal, '#0068ad', '#80ccff', 'decay-0-03');
drawDecay(decayBlue, fitBlue, '#0018bc', '#8a9cff', 'decay-0-05');
drawDecay(decayPurple, fitPurple, '#690082', '#e070ff', 'decay-0-10');
const dA = document.getElementById('dAxes');
frame(dA, 2200, 1624, 1525, 1202, 5.5, 'panel-d-frame');
ticksV(dA, dXTicks, xD, 2826, 24, 5, 'x-major-tick');
ticksV(dA, dXMinor, xD, 2826, 12, 5, 'x-minor-tick');
ticksH(dA, dYTicks, yDa, 2200, 24, 5, 'y-major-tick');
ticksH(dA, dYMinor, yDa, 2200, 12, 5, 'y-minor-tick');
labelsV(dA, dXTicks, dXLabels, xD, 2904, 65, 'x-tick-label');
</script>
</body>
</html>
